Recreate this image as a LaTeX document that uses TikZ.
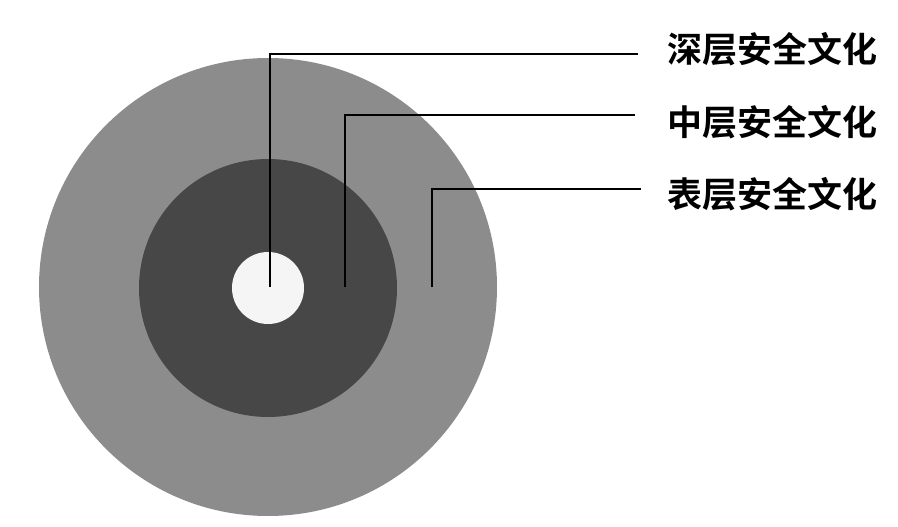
\documentclass[tikz,border=0pt]{standalone}
\usepackage{fontspec}
\newfontfamily\cjk{Noto Sans CJK SC Bold}
\definecolor{outerg}{HTML}{8C8C8C}
\definecolor{midg}{HTML}{474747}
\definecolor{innerg}{HTML}{F5F5F5}
\begin{document}
\begin{tikzpicture}[x=1pt,y=-1pt,
  ring/.style={circle,inner sep=0pt,draw=none},
  lbl/.style={anchor=west,inner sep=0pt,font=\cjk\fontsize{35}{35}\selectfont,text=black},
  leader/.style={draw=black,line width=1.2pt}]
\useasboundingbox[fill=white] (0,0) rectangle (898,527);
\node[ring,fill=outerg,minimum size=458pt] (outer) at (268,287) {};
\node[ring,fill=midg,minimum size=258pt] (mid) at (268,288) {};
\node[ring,fill=innerg,minimum size=72pt] (inner) at (268,288) {};
\coordinate (p1) at (270,287);
\coordinate (p2) at (345,287);
\coordinate (p3) at (432,287);
\node[lbl] (t1) at (667,49) {深层安全文化};
\node[lbl] (t2) at (667,122) {中层安全文化};
\node[lbl] (t3) at (667,194) {表层安全文化};
\coordinate (e1) at (638,54);
\coordinate (e2) at (635,115);
\coordinate (e3) at (641,189);
\draw[leader] (p1) |- (e1);
\draw[leader] (p2) |- (e2);
\draw[leader] (p3) |- (e3);
\end{tikzpicture}
\end{document}
